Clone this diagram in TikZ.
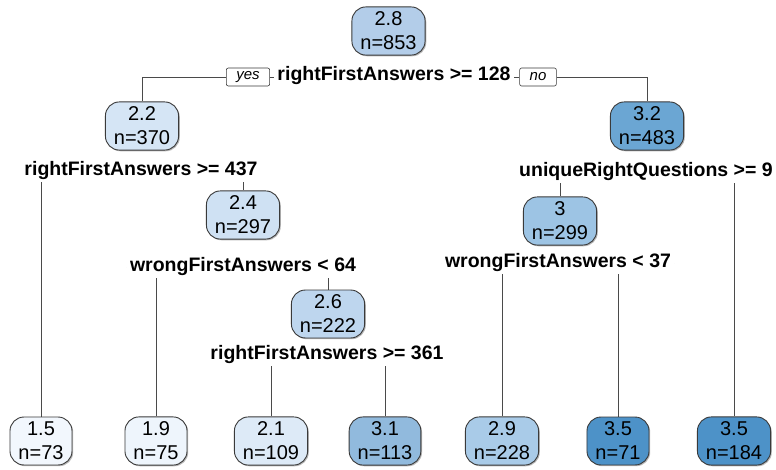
\documentclass[tikz,border=0pt]{standalone}
\usepackage{fontspec}
\setmainfont{Liberation Sans}
\usetikzlibrary{backgrounds,shadows}
\definecolor{edgegray}{HTML}{3A3A3A}
\definecolor{linegray}{HTML}{4A4A4A}
\definecolor{cA}{HTML}{F2F7FD}
\definecolor{cB}{HTML}{EEF5FC}
\definecolor{cC}{HTML}{DDEAF7}
\definecolor{cD}{HTML}{D5E5F5}
\definecolor{cE}{HTML}{CFE1F3}
\definecolor{cF}{HTML}{BED6EE}
\definecolor{cG}{HTML}{B3CDE9}
\definecolor{cH}{HTML}{A9CBE8}
\definecolor{cI}{HTML}{9DC4E4}
\definecolor{cJ}{HTML}{91BADD}
\definecolor{cK}{HTML}{6BA6D3}
\definecolor{cL}{HTML}{4D92C8}
\tikzset{
  treenode/.style={draw=edgegray, line width=0.9pt, rounded corners=14pt,
    align=center, inner xsep=8.5pt, inner ysep=5pt,
    font=\fontsize{20}{24}\selectfont,
    drop shadow={shadow xshift=1.2pt, shadow yshift=-1.2pt, fill=gray!70, opacity=0.8}},
  splitlabel/.style={fill=white, inner xsep=3pt, inner ysep=2pt,
    font=\fontsize{19.5}{22}\selectfont\bfseries},
  yesno/.style={draw=edgegray, fill=white, line width=0.6pt, rounded corners=2pt,
    inner xsep=10pt, inner ysep=1.5pt, minimum height=18pt,
    font=\fontsize{15}{17}\selectfont\itshape},
  branch/.style={draw=linegray, line width=0.8pt}
}
\begin{document}
\begin{tikzpicture}[x=1pt, y=-1pt]
\useasboundingbox (0,0) rectangle (776,470);

% inner nodes
\node[treenode, fill=cG] (root) at (388.5,31) {2.8\\n=853};
\node[treenode, fill=cD] (n22) at (142,126) {2.2\\n=370};
\node[treenode, fill=cK] (n32) at (647,126) {3.2\\n=483};
\node[treenode, fill=cE] (n24) at (243,215) {2.4\\n=297};
\node[treenode, fill=cI] (n30) at (560,221) {3\\n=299};
\node[treenode, fill=cF] (n26) at (328,314) {2.6\\n=222};

% leaves
\node[treenode, fill=cA] (l1) at (41,441) {1.5\\n=73};
\node[treenode, fill=cB] (l2) at (156,441) {1.9\\n=75};
\node[treenode, fill=cC] (l3) at (271,441) {2.1\\n=109};
\node[treenode, fill=cJ] (l4) at (385,441) {3.1\\n=113};
\node[treenode, fill=cH] (l5) at (502,441) {2.9\\n=228};
\node[treenode, fill=cL] (l6) at (618,441) {3.5\\n=71};
\node[treenode, fill=cL] (l7) at (734,441) {3.5\\n=184};

% split labels
\node[splitlabel] (s0) at (394,76) {rightFirstAnswers >= 128};
\node[yesno] (yes) at (248,77) {yes};
\node[yesno] (no) at (538,77) {no};
\node[splitlabel] (s22) at (141,171) {rightFirstAnswers >= 437};
\node[splitlabel] (s24) at (243,267) {wrongFirstAnswers < 64};
\node[splitlabel] (s26) at (327,355) {rightFirstAnswers >= 361};
\node[splitlabel] (s32) at (646,172) {uniqueRightQuestions >= 9};
\node[splitlabel] (s30) at (558,263) {wrongFirstAnswers < 37};

% branches
\begin{pgfonlayer}{background}
  \draw[branch] (yes.west) -| (n22.north);
  \draw[branch] (no.east) -| (n32.north);
  \draw[branch] (yes.east) -- (no.west);
  \draw[branch] (s22) -| (l1.north);
  \draw[branch] (s22) -| (n24.north);
  \draw[branch] (s24) -| (l2.north);
  \draw[branch] (s24) -| (n26.north);
  \draw[branch] (s26) -| (l3.north);
  \draw[branch] (s26) -| (l4.north);
  \draw[branch] (s32) -| (n30.north);
  \draw[branch] (s32) -| (l7.north);
  \draw[branch] (s30) -| (l5.north);
  \draw[branch] (s30) -| (l6.north);
\end{pgfonlayer}
\end{tikzpicture}
\end{document}
